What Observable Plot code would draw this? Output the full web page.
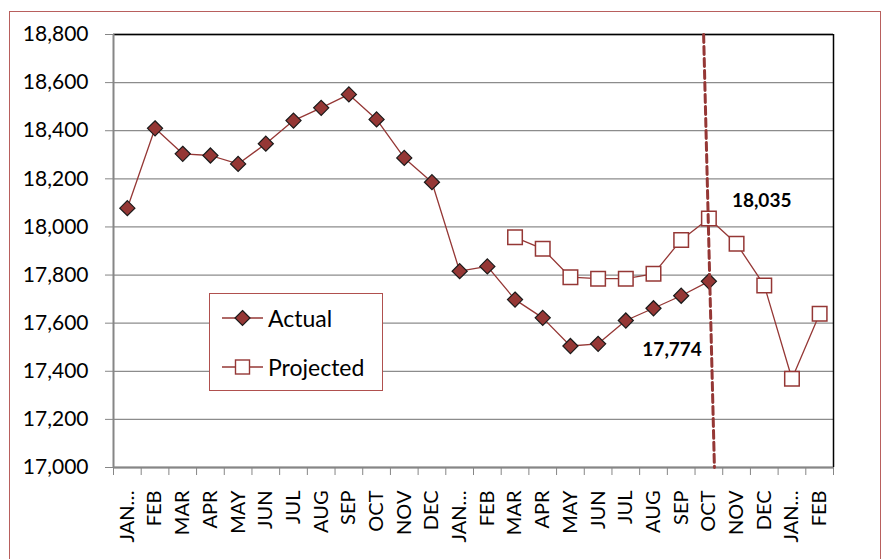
<!DOCTYPE html>
<html>
<head>
<meta charset="utf-8">
<script src="https://cdn.jsdelivr.net/npm/d3@7"></script>
<script src="https://cdn.jsdelivr.net/npm/@observablehq/plot@0.6"></script>
<style>
  body { margin: 0; background: white; font-family: Lato, sans-serif; }
  #wrap { position: relative; width: 882px; height: 559px; overflow: hidden; background: white; }
  #chart { position: absolute; left: 0; top: 0; }
  #border { position: absolute; left: 9px; top: 11px; width: 870px; height: 560px; border: 1px solid #b85f5d; pointer-events: none; }
  #legend { position: absolute; left: 209px; top: 293px; width: 172px; height: 96px; border: 1px solid #b0504e; background: white; }
  .item { position: absolute; left: 12px; height: 30px; display: flex; align-items: center; font-size: 23px; color: black; }
  .item svg { margin-right: 5px; }
</style>
</head>
<body>
<div id="wrap">
  <div id="chart"></div>
  <div id="legend">
    <div class="item" style="top:9px">
      <svg width="41" height="20"><line x1="0" y1="10" x2="41" y2="10" stroke="#953735" stroke-width="1.3"/><path d="M20.5 2.5 L28 10 L20.5 17.5 L13 10 Z" fill="#953735" stroke="#1a1a1a" stroke-width="1.2"/></svg>
      <span>Actual</span>
    </div>
    <div class="item" style="top:58px">
      <svg width="41" height="20"><line x1="0" y1="10" x2="41" y2="10" stroke="#953735" stroke-width="1.3"/><rect x="13.5" y="3" width="14" height="14" fill="white" stroke="#953735" stroke-width="1.4"/></svg>
      <span>Projected</span>
    </div>
  </div>
  <div id="border"></div>
</div>
<script>
const months = ["JAN…","FEB","MAR","APR","MAY","JUN","JUL","AUG","SEP","OCT","NOV","DEC",
                "JAN…","FEB","MAR","APR","MAY","JUN","JUL","AUG","SEP","OCT","NOV","DEC",
                "JAN…","FEB"];
const actual = [18078,18410,18304,18297,18262,18346,18442,18495,18551,18447,18287,18186,
                17816,17836,17698,17622,17505,17514,17611,17662,17714,17774,null,null,null,null];
const projected = [null,null,null,null,null,null,null,null,null,null,null,null,
                   null,null,17957,17909,17791,17785,17785,17805,17946,18035,17930,17757,17369,17639];
const yTicks = [17000,17200,17400,17600,17800,18000,18200,18400,18600,18800];
const cutoff = [{x: 20.81, y: 18800}, {x: 21.2, y: 17000}];
const labelIndex = 21;

const rows = months.map((m, i) => ({i, month: m, actual: actual[i], projected: projected[i]}));
const boundaries = d3.range(-0.5, months.length, 1);
const fmt = d3.format(",");
const red = "#953735";
const axisGray = "#868686";

const chart = Plot.plot({
  width: 882,
  height: 559,
  marginLeft: 113,
  marginRight: 49,
  marginTop: 34,
  marginBottom: 92,
  style: {fontFamily: "Lato, sans-serif", fontSize: "20px", color: "black", background: "transparent", overflow: "visible"},
  x: {type: "linear", domain: [-0.5, months.length - 0.5], axis: null},
  y: {domain: [yTicks[0], yTicks[yTicks.length - 1]], axis: null},
  marks: [
    Plot.gridY({ticks: yTicks, stroke: "#8c8c8c", strokeOpacity: 1, strokeWidth: 1.3}),
    Plot.ruleY([yTicks[yTicks.length - 1]], {stroke: "black", strokeWidth: 1.5}),
    Plot.ruleX([months.length - 0.5], {stroke: "black", strokeWidth: 1.5}),
    Plot.ruleX([-0.5], {stroke: axisGray, strokeWidth: 2}),
    Plot.ruleY([yTicks[0]], {stroke: axisGray, strokeWidth: 2}),
    Plot.axisY({ticks: yTicks, tickFormat: fmt, tickSize: 8, tickPadding: 17, stroke: axisGray, fontSize: 21, label: null}),
    Plot.axisX({ticks: boundaries, tickFormat: () => "", tickSize: 8, stroke: axisGray, label: null}),
    Plot.axisX({ticks: d3.range(months.length), tickFormat: i => months[i], tickSize: 0, tickPadding: 23, tickRotate: -90, fontSize: 20, label: null}),
    Plot.line(rows, {x: "i", y: "actual", stroke: red, strokeWidth: 1.3}),
    Plot.line(rows, {x: "i", y: "projected", stroke: red, strokeWidth: 1.3}),
    Plot.dot(rows, {x: "i", y: "actual", symbol: "diamond2", r: 6.8, fill: red, stroke: "#1a1a1a", strokeWidth: 1.2}),
    Plot.dot(rows, {x: "i", y: "projected", symbol: "square", r: 8.2, fill: "white", stroke: red, strokeWidth: 1.5}),
    Plot.line(cutoff, {x: "x", y: "y", stroke: red, strokeWidth: 3, strokeDasharray: "8,4"}),
    Plot.text([rows[labelIndex]], {x: "i", y: "projected", text: d => fmt(d.projected), textAnchor: "start", dx: 23, dy: -18, fontWeight: "bold", fontSize: 19, fill: "black"}),
    Plot.text([rows[labelIndex]], {x: "i", y: "actual", text: d => fmt(d.actual), textAnchor: "end", dx: -7, dy: 69, fontWeight: "bold", fontSize: 19, fill: "black"})
  ]
});
document.getElementById("chart").appendChild(chart);
</script>
</body>
</html>
